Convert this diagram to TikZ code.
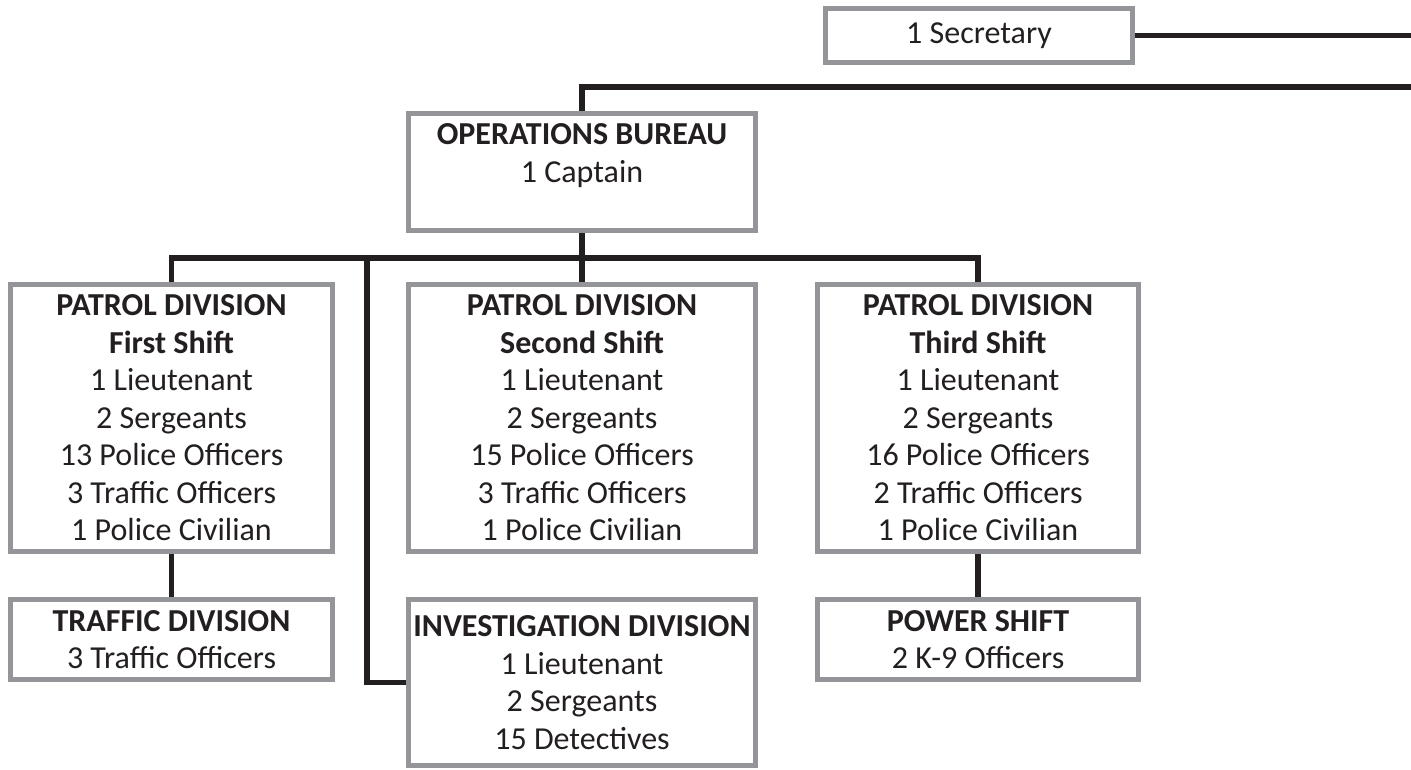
\documentclass[tikz,border=0pt]{standalone}
\usepackage{fontspec}
\setmainfont{Carlito}
\definecolor{boxgray}{HTML}{939598}
\definecolor{ink}{HTML}{231F20}

\tikzset{
    unit/.style={draw=boxgray, line width=5pt, fill=white, align=center,
                 inner sep=0pt, text=ink,
                 font=\fontsize{32}{37.5}\selectfont},
    link/.style={draw=ink, line width=5.5pt}
}

\begin{document}
\begin{tikzpicture}[x=1pt, y=-1pt]

        \useasboundingbox (0,0) rectangle (1411,770);

        % Top boxes
        \node[unit, minimum width=307pt, minimum height=54pt] (sec) at (979,35.5) {1 Secretary};
        \node[unit, minimum width=347pt, minimum height=117pt] (ops) at (582,172)
              {\textbf{OPERATIONS BUREAU}\\1 Captain\\~};

        % Patrol shifts
        \node[unit, minimum width=322pt, minimum height=267pt] (pfirst) at (171.5,418)
              {\textbf{PATROL DIVISION}\\\textbf{First Shift}\\1 Lieutenant\\2 Sergeants\\13 Police Officers\\3 Traffic Officers\\1 Police Civilian};
        \node[unit, minimum width=347pt, minimum height=267pt] (psecond) at (582,418)
              {\textbf{PATROL DIVISION}\\\textbf{Second Shift}\\1 Lieutenant\\2 Sergeants\\15 Police Officers\\3 Traffic Officers\\1 Police Civilian};
        \node[unit, minimum width=321pt, minimum height=267pt] (pthird) at (978,418)
              {\textbf{PATROL DIVISION}\\\textbf{Third Shift}\\1 Lieutenant\\2 Sergeants\\16 Police Officers\\2 Traffic Officers\\1 Police Civilian};

        % Bottom row
        \node[unit, minimum width=322pt, minimum height=80pt] (traffic) at (171.5,639.5)
              {\textbf{TRAFFIC DIVISION}\\3 Traffic Officers};
        \node[unit, minimum width=347pt, minimum height=166pt] (invest) at (582,682.5)
              {\textbf{INVESTIGATION DIVISION}\\1 Lieutenant\\2 Sergeants\\15 Detectives};
        \node[unit, minimum width=321pt, minimum height=80pt] (power) at (978,639.5)
              {\textbf{POWER SHIFT}\\2 K-9 Officers};

        % Free ends and junctions
        \coordinate (secend) at (1411,35.5);
        \coordinate (chiefend) at (1411,87);
        \coordinate (bus) at (582,258);
        \coordinate (investtap) at (367,258);

        % Connectors
        \draw[link] (sec.east) -- (secend);
        \draw[link] (chiefend) -| (ops.north);
        \draw[link] (ops.south) -- (psecond.north);
        \draw[link] (pfirst.north) |- (bus) -| (pthird.north);
        \draw[link] (invest.west) -| (investtap);
        \draw[link] (pfirst.south) -- (traffic.north);
        \draw[link] (pthird.south) -- (power.north);

    \end{tikzpicture}
\end{document}
